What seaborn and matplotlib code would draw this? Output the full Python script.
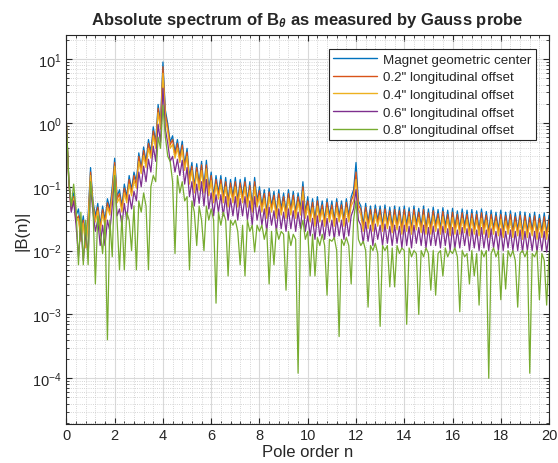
import matplotlib as mpl
mpl.use("Agg")
import matplotlib.pyplot as plt
from matplotlib.ticker import LogLocator, AutoMinorLocator, NullFormatter, FixedLocator
import seaborn as sns
import pandas as pd
import numpy as np

# pole order axis, 0.1 step
n = np.round(np.arange(0, 201) * 0.1, 1)

center = [
    1.0, 0.13, 0.05, 0.08, 0.035, 0.045, 0.02, 0.035, 0.015, 0.035,
    0.2, 0.06, 0.035, 0.055, 0.025, 0.05, 0.03, 0.065, 0.045, 0.1,
    0.28, 0.07, 0.09, 0.05, 0.11, 0.07, 0.15, 0.09, 0.17, 0.12,
    0.34, 0.2, 0.42, 0.25, 0.55, 0.35, 0.87, 0.5, 1.95, 1.0,
    9.0, 1.6, 0.97, 0.5, 0.63, 0.35, 0.55, 0.3, 0.52, 0.22,
    0.4, 0.14, 0.24, 0.1, 0.23, 0.11, 0.25, 0.1, 0.26, 0.09,
    0.17, 0.07, 0.15, 0.08, 0.15, 0.07, 0.14, 0.06, 0.13, 0.07,
    0.14, 0.06, 0.13, 0.07, 0.14, 0.06, 0.12, 0.05, 0.14, 0.06,
    0.1, 0.05, 0.09, 0.04, 0.095, 0.05, 0.085, 0.04, 0.09, 0.045,
    0.08, 0.04, 0.09, 0.045, 0.085, 0.04, 0.08, 0.045, 0.12, 0.04,
    0.07, 0.035, 0.065, 0.03, 0.07, 0.035, 0.06, 0.03, 0.065, 0.035,
    0.06, 0.03, 0.065, 0.035, 0.06, 0.03, 0.065, 0.035, 0.07, 0.09,
    0.24, 0.06, 0.05, 0.025, 0.055, 0.028, 0.05, 0.025, 0.052, 0.03,
    0.05, 0.025, 0.052, 0.027, 0.048, 0.024, 0.05, 0.026, 0.048, 0.023,
    0.05, 0.025, 0.047, 0.022, 0.05, 0.026, 0.046, 0.024, 0.05, 0.022,
    0.045, 0.023, 0.048, 0.025, 0.044, 0.022, 0.047, 0.024, 0.043, 0.021,
    0.046, 0.023, 0.042, 0.022, 0.045, 0.024, 0.043, 0.021, 0.044, 0.022,
    0.042, 0.021, 0.045, 0.023, 0.041, 0.02, 0.043, 0.022, 0.04, 0.021,
    0.043, 0.02, 0.04, 0.022, 0.042, 0.02, 0.039, 0.021, 0.041, 0.019,
    0.04, 0.02, 0.038, 0.021, 0.04, 0.019, 0.037, 0.02, 0.039, 0.019,
    0.036,
]

off02 = [
    1.0, 0.12, 0.045, 0.07, 0.03, 0.035, 0.015, 0.03, 0.012, 0.03,
    0.17, 0.055, 0.03, 0.048, 0.022, 0.044, 0.027, 0.056, 0.04, 0.085,
    0.24, 0.063, 0.078, 0.045, 0.095, 0.063, 0.13, 0.08, 0.15, 0.105,
    0.3, 0.18, 0.37, 0.22, 0.48, 0.31, 0.75, 0.44, 1.7, 0.9,
    7.6, 1.4, 0.85, 0.45, 0.55, 0.31, 0.48, 0.27, 0.45, 0.2,
    0.35, 0.125, 0.21, 0.09, 0.2, 0.1, 0.22, 0.09, 0.22, 0.08,
    0.15, 0.063, 0.13, 0.072, 0.13, 0.063, 0.12, 0.054, 0.115, 0.063,
    0.12, 0.054, 0.115, 0.063, 0.12, 0.054, 0.105, 0.045, 0.12, 0.054,
    0.087, 0.045, 0.078, 0.036, 0.083, 0.045, 0.074, 0.036, 0.078, 0.04,
    0.07, 0.036, 0.078, 0.04, 0.074, 0.036, 0.07, 0.04, 0.1, 0.036,
    0.06, 0.031, 0.057, 0.027, 0.06, 0.031, 0.052, 0.027, 0.057, 0.031,
    0.052, 0.027, 0.057, 0.031, 0.052, 0.027, 0.057, 0.031, 0.06, 0.075,
    0.17, 0.052, 0.044, 0.022, 0.048, 0.025, 0.044, 0.022, 0.045, 0.027,
    0.044, 0.022, 0.045, 0.024, 0.042, 0.021, 0.044, 0.023, 0.042, 0.021,
    0.044, 0.022, 0.041, 0.02, 0.044, 0.023, 0.04, 0.021, 0.044, 0.02,
    0.039, 0.021, 0.042, 0.022, 0.038, 0.02, 0.041, 0.021, 0.037, 0.019,
    0.04, 0.021, 0.037, 0.02, 0.039, 0.021, 0.037, 0.019, 0.038, 0.02,
    0.037, 0.019, 0.039, 0.021, 0.036, 0.018, 0.037, 0.02, 0.035, 0.019,
    0.037, 0.018, 0.035, 0.02, 0.037, 0.018, 0.034, 0.019, 0.036, 0.017,
    0.035, 0.018, 0.033, 0.019, 0.035, 0.017, 0.032, 0.018, 0.034, 0.017,
    0.031,
]

off04 = [
    1.0, 0.12, 0.042, 0.065, 0.028, 0.032, 0.014, 0.027, 0.011, 0.027,
    0.15, 0.05, 0.028, 0.042, 0.02, 0.038, 0.024, 0.048, 0.036, 0.075,
    0.21, 0.056, 0.066, 0.04, 0.08, 0.056, 0.11, 0.072, 0.125, 0.095,
    0.25, 0.16, 0.31, 0.2, 0.4, 0.28, 0.63, 0.4, 1.45, 0.8,
    6.0, 1.2, 0.72, 0.4, 0.46, 0.28, 0.4, 0.24, 0.38, 0.18,
    0.3, 0.11, 0.18, 0.08, 0.17, 0.088, 0.18, 0.08, 0.19, 0.072,
    0.125, 0.056, 0.11, 0.064, 0.11, 0.056, 0.1, 0.048, 0.095, 0.056,
    0.1, 0.048, 0.095, 0.056, 0.1, 0.048, 0.088, 0.04, 0.1, 0.048,
    0.072, 0.04, 0.066, 0.032, 0.07, 0.04, 0.062, 0.032, 0.066, 0.036,
    0.058, 0.032, 0.066, 0.036, 0.062, 0.032, 0.058, 0.036, 0.085, 0.032,
    0.05, 0.028, 0.047, 0.024, 0.05, 0.028, 0.044, 0.024, 0.047, 0.028,
    0.044, 0.024, 0.047, 0.028, 0.044, 0.024, 0.047, 0.028, 0.05, 0.06,
    0.13, 0.045, 0.036, 0.02, 0.04, 0.022, 0.036, 0.02, 0.038, 0.024,
    0.036, 0.02, 0.038, 0.022, 0.035, 0.019, 0.036, 0.021, 0.035, 0.018,
    0.036, 0.02, 0.034, 0.018, 0.036, 0.021, 0.033, 0.019, 0.036, 0.018,
    0.032, 0.018, 0.035, 0.02, 0.032, 0.018, 0.034, 0.019, 0.031, 0.017,
    0.033, 0.018, 0.03, 0.018, 0.032, 0.019, 0.031, 0.017, 0.032, 0.018,
    0.03, 0.017, 0.032, 0.018, 0.03, 0.016, 0.031, 0.018, 0.029, 0.017,
    0.031, 0.016, 0.029, 0.018, 0.03, 0.016, 0.028, 0.017, 0.03, 0.015,
    0.029, 0.016, 0.027, 0.017, 0.029, 0.015, 0.027, 0.016, 0.028, 0.015,
    0.026,
]

off06 = [
    1.0, 0.12, 0.04, 0.06, 0.025, 0.008, 0.025, 0.007, 0.02, 0.008,
    0.1, 0.04, 0.02, 0.03, 0.012, 0.025, 0.012, 0.03, 0.02, 0.05,
    0.14, 0.035, 0.045, 0.025, 0.055, 0.03, 0.075, 0.045, 0.085, 0.06,
    0.17, 0.1, 0.21, 0.12, 0.27, 0.17, 0.43, 0.25, 0.95, 0.5,
    3.5, 0.8, 0.48, 0.25, 0.3, 0.17, 0.27, 0.15, 0.26, 0.11,
    0.2, 0.07, 0.12, 0.05, 0.11, 0.055, 0.12, 0.05, 0.13, 0.045,
    0.08, 0.035, 0.075, 0.04, 0.075, 0.035, 0.07, 0.03, 0.065, 0.035,
    0.07, 0.03, 0.065, 0.035, 0.07, 0.03, 0.06, 0.025, 0.07, 0.03,
    0.05, 0.025, 0.045, 0.02, 0.048, 0.025, 0.042, 0.02, 0.045, 0.022,
    0.04, 0.02, 0.045, 0.022, 0.042, 0.02, 0.04, 0.022, 0.06, 0.02,
    0.035, 0.017, 0.032, 0.015, 0.035, 0.017, 0.03, 0.015, 0.032, 0.017,
    0.03, 0.015, 0.032, 0.017, 0.03, 0.015, 0.032, 0.017, 0.035, 0.045,
    0.09, 0.03, 0.025, 0.013, 0.028, 0.014, 0.025, 0.012, 0.026, 0.015,
    0.025, 0.012, 0.026, 0.013, 0.024, 0.012, 0.025, 0.013, 0.024, 0.011,
    0.025, 0.012, 0.024, 0.011, 0.025, 0.013, 0.023, 0.012, 0.025, 0.011,
    0.023, 0.012, 0.024, 0.012, 0.022, 0.011, 0.024, 0.012, 0.022, 0.01,
    0.023, 0.011, 0.021, 0.011, 0.023, 0.012, 0.022, 0.01, 0.022, 0.011,
    0.021, 0.01, 0.023, 0.011, 0.021, 0.01, 0.022, 0.011, 0.02, 0.01,
    0.022, 0.01, 0.02, 0.011, 0.021, 0.01, 0.02, 0.01, 0.021, 0.0095,
    0.02, 0.01, 0.019, 0.01, 0.02, 0.0095, 0.019, 0.01, 0.02, 0.0095,
    0.018,
]

off08 = [
    1.0, 0.13, 0.05, 0.11, 0.045, 0.006, 0.04, 0.006, 0.03, 0.006,
    0.12, 0.05, 0.003, 0.035, 0.02, 0.009, 0.03, 0.0004, 0.03, 0.008,
    0.15, 0.03, 0.005, 0.035, 0.005, 0.04, 0.03, 0.01, 0.05, 0.005,
    0.06, 0.04, 0.08, 0.05, 0.005, 0.1, 0.15, 0.12, 0.6, 0.4,
    1.9, 0.6, 0.3, 0.25, 0.12, 0.009, 0.15, 0.08, 0.12, 0.06,
    0.07, 0.005, 0.06, 0.04, 0.012, 0.05, 0.03, 0.01, 0.05, 0.03,
    0.045, 0.03, 0.0015, 0.04, 0.025, 0.04, 0.03, 0.004, 0.03, 0.025,
    0.03, 0.02, 0.006, 0.025, 0.004, 0.03, 0.02, 0.025, 0.0095, 0.025,
    0.02, 0.025, 0.015, 0.022, 0.003, 0.02, 0.006, 0.022, 0.015, 0.02,
    0.018, 0.0024, 0.02, 0.012, 0.018, 0.015, 0.00012, 0.02, 0.03, 0.015,
    0.02, 0.004, 0.018, 0.004, 0.016, 0.012, 0.018, 0.012, 0.002, 0.015,
    0.014, 0.016, 0.01, 0.00045, 0.015, 0.012, 0.016, 0.012, 0.003, 0.03,
    0.06, 0.015, 0.012, 0.014, 0.01, 0.0013, 0.012, 0.01, 0.013, 0.009,
    0.00065, 0.012, 0.01, 0.012, 0.0027, 0.011, 0.0027, 0.012, 0.009, 0.011,
    0.01, 0.0007, 0.011, 0.008, 0.01, 0.009, 0.001, 0.01, 0.008, 0.011,
    0.009, 0.0024, 0.01, 0.002, 0.009, 0.01, 0.004, 0.011, 0.008, 0.01,
    0.009, 0.011, 0.008, 0.0011, 0.01, 0.008, 0.009, 0.003, 0.01, 0.004,
    0.009, 0.0014, 0.01, 0.008, 0.01, 0.0001, 0.009, 0.011, 0.008, 0.01,
    0.0017, 0.009, 0.0025, 0.01, 0.008, 0.01, 0.007, 0.0013, 0.009, 0.01,
    0.008, 0.01, 0.00012, 0.009, 0.008, 0.01, 0.0017, 0.009, 0.007, 0.0014,
    0.009,
]

labels = ['Magnet geometric center', '0.2" longitudinal offset',
          '0.4" longitudinal offset', '0.6" longitudinal offset',
          '0.8" longitudinal offset']
colors = ['#0072BD', '#D95319', '#EDB120', '#7E2F8E', '#77AC30']
ytick_vals = [1e-4, 1e-3, 1e-2, 1e-1, 1e0, 1e1]

frames = []
for lab, vals in zip(labels, [center, off02, off04, off06, off08]):
    frames.append(pd.DataFrame({'n': n, 'B': vals, 'series': lab}))
data = pd.concat(frames, ignore_index=True)

sns.set_style("ticks")
plt.rcParams['font.family'] = ['Liberation Sans', 'DejaVu Sans']
plt.rcParams['mathtext.fontset'] = 'custom'
plt.rcParams['mathtext.rm'] = 'Liberation Sans'
plt.rcParams['mathtext.it'] = 'Liberation Sans:italic:bold'

fig = plt.figure(figsize=(5.58, 4.64), dpi=100)
ax = fig.add_axes([0.119, 0.085, 0.865, 0.837])

sns.lineplot(data=data, x='n', y='B', hue='series', palette=colors,
             estimator=None, sort=False, linewidth=0.9, ax=ax)

ax.set_yscale('log')
ax.set_xlim(0, 20)
ax.set_ylim(1.95e-5, 23.7)
ax.set_xticks(range(0, 21, 2))
ax.xaxis.set_minor_locator(AutoMinorLocator(5))
ax.yaxis.set_major_locator(FixedLocator(ytick_vals))
ax.yaxis.set_minor_locator(LogLocator(base=10, subs=np.arange(2, 10), numticks=20))
ax.yaxis.set_minor_formatter(NullFormatter())

ax.grid(which='major', color='#d9d9d9', linewidth=0.8, linestyle='-')
ax.grid(which='minor', color='#c8c8c8', linewidth=0.6, linestyle=':')
ax.set_axisbelow(True)

for sp in ax.spines.values():
    sp.set_color('#262626')
    sp.set_linewidth(0.8)
ax.tick_params(which='both', direction='in', top=True, right=True,
               colors='#262626', labelsize=10.5, labelcolor='#262626')
ax.tick_params(which='major', length=4)
ax.tick_params(which='minor', length=2)

ax.set_xlabel('Pole order n', fontsize=12, color='#262626', labelpad=1)
ax.set_ylabel('|B(n)|', fontsize=12, color='#262626', labelpad=2)
ax.set_title(r'Absolute spectrum of B$_{\it{\theta}}$ as measured by Gauss probe',
             fontsize=12, fontweight='bold', pad=8)

leg = ax.legend(loc='upper right', bbox_to_anchor=(0.972, 0.964), fontsize=9.6,
                frameon=True, fancybox=False, edgecolor='#262626',
                framealpha=1, handlelength=3.3, borderpad=0.3,
                labelspacing=0.4, handletextpad=0.5, borderaxespad=0)
leg.get_frame().set_linewidth(0.8)
for line in leg.get_lines():
    line.set_linewidth(1.0)

plt.savefig('out.png', dpi=100)
